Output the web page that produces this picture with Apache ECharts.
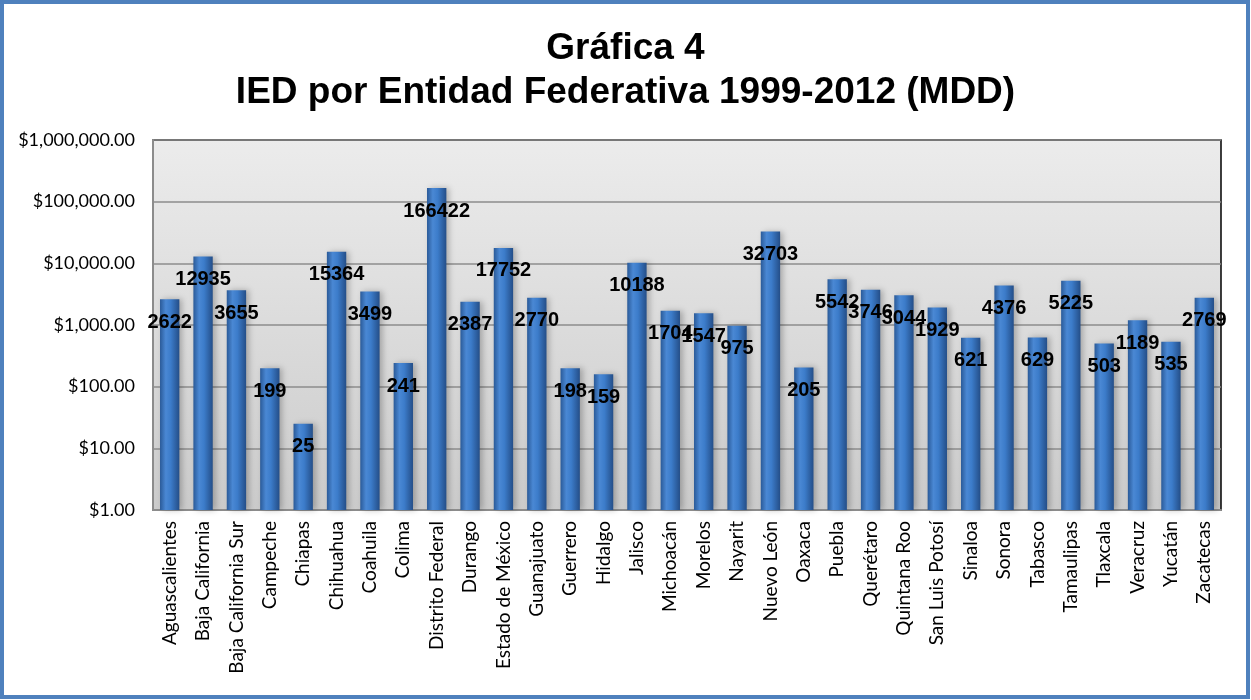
<!DOCTYPE html>
<html><head><meta charset="utf-8">
<script src="https://cdn.jsdelivr.net/npm/echarts@6/dist/echarts.min.js"></script>
<style>html,body{margin:0;padding:0;background:#fff}#c{width:1251px;height:700px}</style>
</head><body><div id="c"></div>
<script>
const categories = ["Aguascalientes","Baja California","Baja California Sur","Campeche","Chiapas","Chihuahua","Coahuila","Colima","Distrito Federal","Durango","Estado de México","Guanajuato","Guerrero","Hidalgo","Jalisco","Michoacán","Morelos","Nayarit","Nuevo León","Oaxaca","Puebla","Querétaro","Quintana Roo","San Luis Potosí","Sinaloa","Sonora","Tabasco","Tamaulipas","Tlaxcala","Veracruz","Yucatán","Zacatecas"];
const values = [2622,12935,3655,199,25,15364,3499,241,166422,2387,17752,2770,198,159,10188,1704,1547,975,32703,205,5542,3746,3044,1929,621,4376,629,5225,503,1189,535,2769];
const yMin = 1, yMax = 1000000;
const titleLines = ["Gráfica 4","IED por Entidad Federativa 1999-2012 (MDD)"];

const chart = echarts.init(document.getElementById('c'), null, {renderer:'canvas'});
const fmt = v => '$' + Number(v).toLocaleString('en-US',{minimumFractionDigits:2,maximumFractionDigits:2});
chart.setOption({
  animation:false,
  backgroundColor:'#ffffff',
  title:{
    text: titleLines.join('\n'),
    left:'center', top:22,
    textStyle:{fontFamily:'Liberation Sans, Arial', fontSize:37, fontWeight:'bold', color:'#000', lineHeight:44}
  },
  graphic:[{type:'rect', z:100, silent:true, shape:{x:2,y:2,width:1246,height:695}, style:{fill:'none', stroke:'#4f81bd', lineWidth:4}}],
  grid:{left:153, right:30, top:140, bottom:190, show:true, borderColor:'#000', borderWidth:1.5,
    backgroundColor:{type:'linear',x:0,y:0,x2:0,y2:1,colorStops:[{offset:0,color:'#ececec'},{offset:1,color:'#cbcbcb'}]}},
  xAxis:{type:'category', data:categories,
    axisLine:{show:true, lineStyle:{color:'#8c8c8c', width:2}},
    axisTick:{show:false},
    axisLabel:{rotate:90, interval:0, fontFamily:'Lato, Noto Sans', fontSize:19, color:'#000', margin:11}},
  yAxis:{type:'log', logBase:10, min:yMin, max:yMax,
    axisLine:{show:true, lineStyle:{color:'#8c8c8c', width:2}},
    axisTick:{show:false},
    splitLine:{lineStyle:{color:'#8c8c8c', width:1.5}},
    axisLabel:{formatter:fmt, fontFamily:'Lato, Noto Sans', fontSize:18, color:'#000', margin:18}},
  series:[{type:'bar', data:values, barWidth:'58%',
    itemStyle:{
      color:{type:'linear',x:0,y:0,x2:1,y2:0,colorStops:[
        {offset:0,color:'#2a5a98'},{offset:0.3,color:'#4a88d4'},{offset:0.55,color:'#3c7cca'},{offset:1,color:'#244e88'}]},
      shadowBlur:6, shadowColor:'rgba(0,0,0,0.25)', shadowOffsetX:3, shadowOffsetY:0
    },
    label:{show:true, position:'insideTop', distance:13, color:'#000', fontFamily:'Liberation Sans, Arial', fontWeight:'bold', fontSize:20}
  }]
});
</script></body></html>
